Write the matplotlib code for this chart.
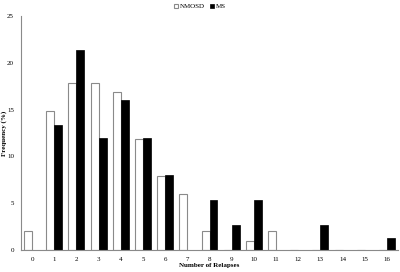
import numpy as np
import matplotlib
matplotlib.use('Agg')
import matplotlib.pyplot as plt

relapses = np.arange(0, 17)
nmosd = [1.98, 14.85, 17.82, 17.82, 16.83, 11.88, 7.92, 5.94, 1.98, 0, 0.99, 1.98, 0, 0, 0, 0, 0]
ms = [0, 13.33, 21.33, 12.0, 16.0, 12.0, 8.0, 0, 5.33, 2.67, 5.33, 0, 0, 2.67, 0, 0, 1.33]
yticks = [0, 5, 10, 15, 20, 25]

plt.rcParams['font.family'] = ['Liberation Serif', 'DejaVu Serif']

fig = plt.figure(figsize=(4.0, 2.72), dpi=100)
ax = fig.add_axes([0.0525, 0.081, 0.9425, 0.86])

w = 0.36
ax.bar(relapses - w / 2, nmosd, width=w, color='white', edgecolor='#8a8a8a', linewidth=0.8, label='NMOSD')
ax.bar(relapses + w / 2, ms, width=w, color='black', edgecolor='black', linewidth=0.5, label='MS')

ax.set_xlim(-0.5, 16.5)
ax.set_ylim(0, 25)
ax.set_xticks(relapses)
ax.set_xticklabels([str(r) for r in relapses], fontsize=5)
ax.set_yticks(yticks)
ax.set_yticklabels([str(t) for t in yticks], fontsize=5)
ax.tick_params(length=0, pad=5)

for s in ['top', 'right']:
    ax.spines[s].set_visible(False)
for s in ['left', 'bottom']:
    ax.spines[s].set_color('#8a8a8a')
    ax.spines[s].set_linewidth(0.8)

ax.set_xlabel('Number of Relapses', fontsize=5, fontweight='bold')
ax.set_ylabel('Frequency (%)', fontsize=5, fontweight='bold')
ax.xaxis.set_label_coords(0.5, -0.055)
ax.yaxis.set_label_coords(-0.038, 0.5)

fig.legend(loc='upper center', bbox_to_anchor=(0.5, 1.01), ncol=2, fontsize=5,
           frameon=False, handlelength=0.6, handleheight=0.6, handletextpad=0.2,
           columnspacing=0.8)

fig.savefig('out.png', dpi=100)
